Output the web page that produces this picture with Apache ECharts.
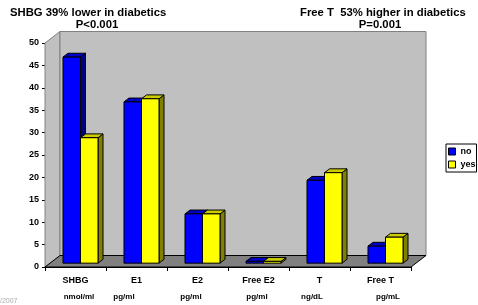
<!DOCTYPE html>
<html>
<head>
<meta charset="utf-8">
<script src="https://cdn.jsdelivr.net/npm/echarts@6/dist/echarts.min.js"></script>
<style>
  html, body { margin: 0; padding: 0; background: #fff; }
  #chart { width: 478px; height: 305px; }
</style>
</head>
<body>
<div id="chart"></div>
<script>
// hormone levels, non-diabetic (no) vs diabetic (yes)
const categories = ['SHBG', 'E1', 'E2', 'Free E2', 'T', 'Free T']
const units = ['nmol/ml', 'pg/ml', 'pg/ml', 'pg/ml', 'ng/dL', 'pg/mL']
const noValues = [46, 36, 11, 0.4, 18.5, 3.8]
const yesValues = [28, 36.7, 11, 0.4, 20.2, 5.8]
const yTicks = { min: 0, max: 50, interval: 5 }

const FONT = 'Liberation Sans, Arial, sans-serif'
// 3D depth of the plot box (back wall offset from front plane)
const DX = 15, DY = -11.5
// unit label nudges under each category (px)
const UNIT_SHIFT = [3.5, -12.5, -6.5, -1.5, -7.5, 7.5]

const COLORS = {
  no: { front: '#0000ff', top: '#0000c8', side: '#000080' },
  yes: { front: '#ffff00', top: '#cccc00', side: '#808000' }
}

const chart = echarts.init(document.getElementById('chart'))

function wallsItem(params, api) {
  const cs = params.coordSys
  const x0 = cs.x, x1 = cs.x + cs.width, y0 = cs.y, y1 = cs.y + cs.height
  return {
    type: 'group',
    children: [
      { // left side wall
        type: 'polygon',
        shape: { points: [[x0, y0], [x0 + DX, y0 + DY], [x0 + DX, y1 + DY], [x0, y1]] },
        style: { fill: '#c0c0c0', stroke: '#808080', lineWidth: 1 }
      },
      { // back wall
        type: 'rect',
        shape: { x: x0 + DX, y: y0 + DY, width: cs.width, height: cs.height },
        style: { fill: '#c0c0c0', stroke: '#808080', lineWidth: 1 }
      },
      { // floor
        type: 'polygon',
        shape: { points: [[x0, y1], [x0 + DX, y1 + DY], [x1 + DX, y1 + DY], [x1, y1]] },
        style: { fill: '#808080', stroke: '#000', lineWidth: 1 }
      }
    ]
  }
}

function makeBar(side) {
  const c = COLORS[side]
  return function (params, api) {
    const i = api.value(0), v = api.value(1)
    const base = api.coord([i, 0])
    const top = api.coord([i, v])
    const band = api.size([1, 0])[0]
    const w = band * 0.287
    const fx = DX / 3, fy = DY / 3   // front face sits a third into the depth
    const dx = DX / 3, dy = DY / 3   // bar depth
    const x0 = base[0] + fx + (side === 'no' ? -w : 0)
    const x1 = x0 + w
    const yb = base[1] + fy, yt = top[1] + fy
    const line = { stroke: '#000', lineWidth: 1, lineJoin: 'miter' }
    return {
      type: 'group',
      children: [
        { type: 'polygon', shape: { points: [[x1, yt], [x1 + dx, yt + dy], [x1 + dx, yb + dy], [x1, yb]] },
          style: Object.assign({ fill: c.side }, line) },
        { type: 'polygon', shape: { points: [[x0, yt], [x1, yt], [x1 + dx, yt + dy], [x0 + dx, yt + dy]] },
          style: Object.assign({ fill: c.top }, line) },
        { type: 'rect', shape: { x: x0, y: yt, width: w, height: yb - yt },
          style: Object.assign({ fill: c.front }, line) }
      ]
    }
  }
}

chart.setOption({
  animation: false,
  textStyle: { fontFamily: FONT },
  grid: { left: 45, right: 67, top: 43, bottom: 38 },
  legend: {
    data: ['no', 'yes'],
    orient: 'vertical',
    left: 446, top: 144,
    padding: [3, 1, 3, 2],
    itemGap: 4,
    itemWidth: 7, itemHeight: 7,
    itemTextGap: 2,
    icon: 'rect',
    borderColor: '#000', borderWidth: 1,
    backgroundColor: '#fff',
    itemStyle: { borderColor: '#000', borderWidth: 1 },
    textStyle: { fontFamily: FONT, fontSize: 9, fontWeight: 'bold', color: '#000', padding: 0 }
  },
  xAxis: {
    type: 'category',
    data: categories,
    axisLine: { lineStyle: { color: '#000', width: 1 } },
    axisTick: { show: true, length: 4, lineStyle: { color: '#000' } },
    axisLabel: { margin: 9, fontFamily: FONT, fontSize: 9, fontWeight: 'bold', color: '#000' },
    splitLine: { show: false }
  },
  yAxis: {
    type: 'value',
    min: yTicks.min, max: yTicks.max, interval: yTicks.interval,
    axisLine: { show: true, lineStyle: { color: '#000', width: 1 } },
    axisTick: { show: true, length: 3, lineStyle: { color: '#000' } },
    axisLabel: { margin: 6, fontFamily: FONT, fontSize: 9, fontWeight: 'bold', color: '#000' },
    splitLine: { show: false }
  },
  series: [
    { type: 'custom', name: 'walls', z: 1, silent: true, renderItem: wallsItem, data: [[0, 0]] },
    { type: 'custom', name: 'no', z: 2, renderItem: makeBar('no'),
      itemStyle: { color: COLORS.no.front },
      data: noValues.map((v, i) => [i, v]) },
    { type: 'custom', name: 'yes', z: 3, renderItem: makeBar('yes'),
      itemStyle: { color: COLORS.yes.front },
      data: yesValues.map((v, i) => [i, v]) }
  ]
})

// titles, unit row and footer
const unitTexts = units.map((u, i) => {
  const x = chart.convertToPixel({ xAxisIndex: 0 }, i)
  return {
    type: 'text', x: x + UNIT_SHIFT[i], y: 297,
    style: { text: u, font: 'bold 8px ' + FONT, fill: '#000', align: 'center', verticalAlign: 'middle' }
  }
})

chart.setOption({
  graphic: [
    { type: 'text', x: 10, y: 13,
      style: { text: 'SHBG 39% lower in diabetics', font: 'bold 11.3px ' + FONT, fill: '#000', verticalAlign: 'middle' } },
    { type: 'text', x: 97, y: 25,
      style: { text: 'P<0.001', font: 'bold 11.3px ' + FONT, fill: '#000', align: 'center', verticalAlign: 'middle' } },
    { type: 'text', x: 300, y: 13,
      style: { text: 'Free T  53% higher in diabetics', font: 'bold 11.3px ' + FONT, fill: '#000', verticalAlign: 'middle' } },
    { type: 'text', x: 380, y: 25,
      style: { text: 'P=0.001', font: 'bold 11.3px ' + FONT, fill: '#000', align: 'center', verticalAlign: 'middle' } },
    { type: 'text', x: 0, y: 301,
      style: { text: '/2007', font: '7px ' + FONT, fill: '#aaa', verticalAlign: 'middle' } }
  ].concat(unitTexts)
})
</script>
</body>
</html>
